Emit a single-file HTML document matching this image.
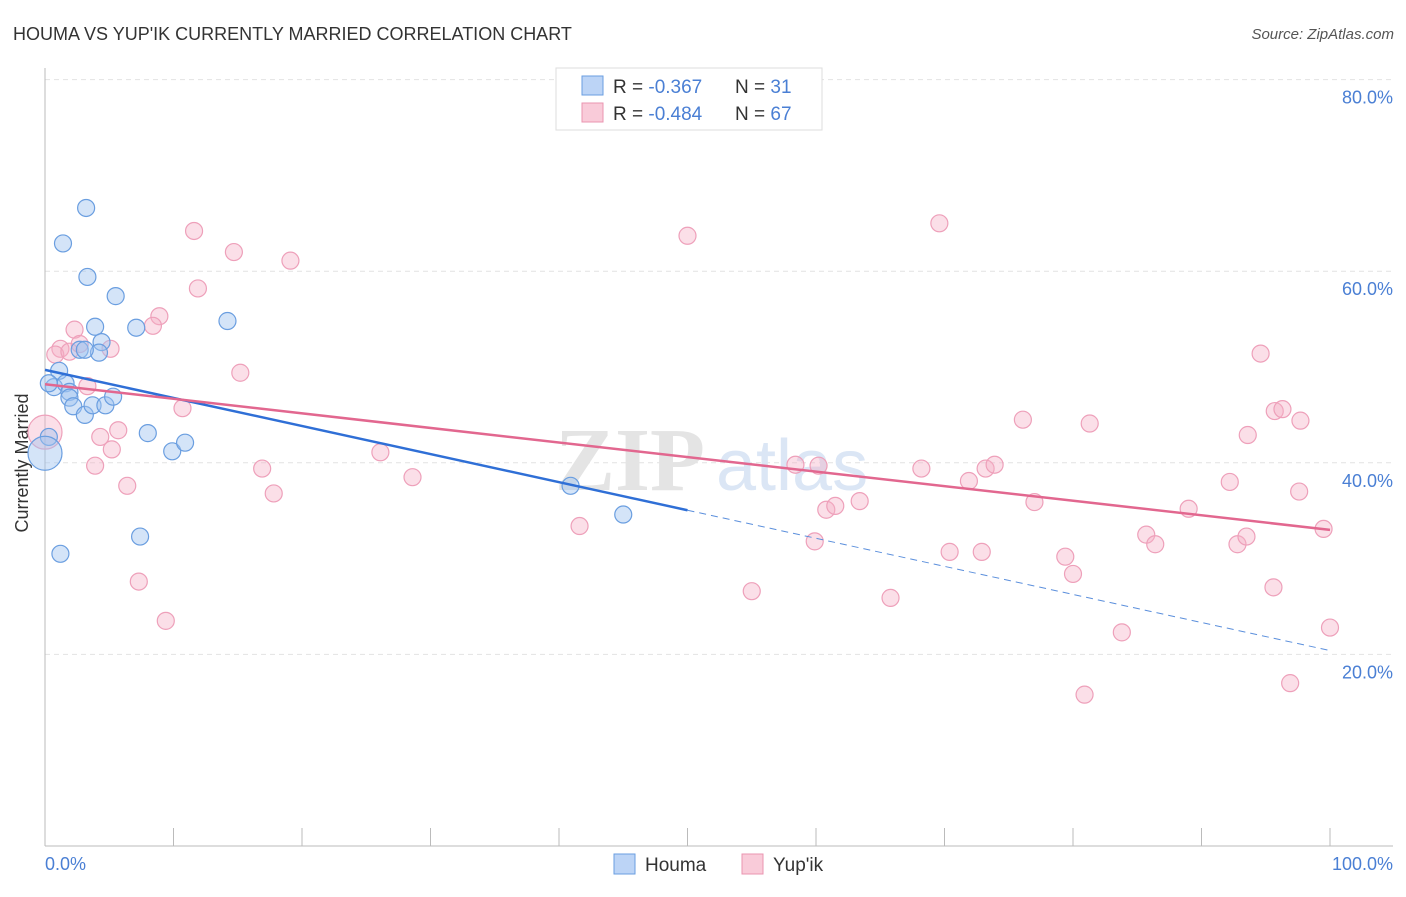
<!DOCTYPE html>
<html><head><meta charset="utf-8"><style>
body{margin:0;background:#fff;font-family:"Liberation Sans",sans-serif}
</style></head><body>
<svg width="1406" height="892" xmlns="http://www.w3.org/2000/svg" font-family="Liberation Sans, sans-serif">
<text x="13" y="40" font-size="18" fill="#333">HOUMA VS YUP'IK CURRENTLY MARRIED CORRELATION CHART</text>
<text x="1394" y="39" font-size="15" fill="#555" font-style="italic" text-anchor="end">Source: ZipAtlas.com</text>
<g id="grid"></g>
<g><text x="555" y="490" font-size="90" fill="#e4e4e4" font-family="Liberation Serif, serif" font-weight="bold">ZIP</text><text x="716" y="490" font-size="72" fill="#dbe6f5">atlas</text></g>
<line x1="45" y1="68" x2="45" y2="846" stroke="#bbb"/>
<line x1="45" y1="846" x2="1393" y2="846" stroke="#bbb"/>
<g id="ticks"></g>
<text x="22" y="457" font-size="18" fill="#333" text-anchor="middle" transform="rotate(-90 28 457)">Currently Married</text>
<text x="45" y="870" font-size="18" fill="#4a7fd4">0.0%</text>
<text x="1393" y="870" font-size="18" fill="#4a7fd4" text-anchor="end">100.0%</text>
<g id="pts"></g>
<g id="lines"></g>
<g>
<rect x="556" y="68" width="266" height="62" fill="#fff" stroke="#ddd"/>
<rect x="582" y="76" width="21" height="19" fill="#bcd4f6" stroke="#6a9ee0"/>
<rect x="582" y="103" width="21" height="19" fill="#f9cbd9" stroke="#ea94b0"/>
<text x="613" y="93" font-size="19" fill="#333">R = <tspan fill="#4a7fd4">-0.367</tspan><tspan x="735">N = </tspan><tspan fill="#4a7fd4">31</tspan></text>
<text x="613" y="120" font-size="19" fill="#333">R = <tspan fill="#4a7fd4">-0.484</tspan><tspan x="735">N = </tspan><tspan fill="#4a7fd4">67</tspan></text>
</g>
<g>
<rect x="614" y="854" width="21" height="20" fill="#bcd4f6" stroke="#6a9ee0"/>
<text x="645" y="871" font-size="19" fill="#333">Houma</text>
<rect x="742" y="854" width="21" height="20" fill="#f9cbd9" stroke="#ea94b0"/>
<text x="773" y="871" font-size="19" fill="#333">Yup'ik</text>
</g>
</svg>
<script>
const yTicks=[20,40,60,80];
const yTickLabels=["20.0%","40.0%","60.0%","80.0%"];
const houmaX=[3.2,1.4,3.3,5.5,14.2,3.9,7.1,4.4,2.7,4.2,1.1,0.7,1.6,1.9,1.9,2.2,3.1,3.7,4.7,5.3,8.0,9.9,10.9,0.3,0,40.9,45.0,7.4,1.2,3.1,0.3];
const houmaY=[66.6,62.9,59.4,57.4,54.8,54.2,54.1,52.6,51.8,51.5,49.6,47.9,48.3,47.4,46.8,45.9,45.0,46.0,46.0,46.9,43.1,41.2,42.1,42.7,41.0,37.6,34.6,32.3,30.5,51.8,48.3];
const houmaBig=[24];
const yupX=[11.6,14.7,19.1,11.9,8.9,8.4,2.3,1.2,0.8,1.9,2.7,5.1,3.3,10.7,5.7,4.3,5.2,3.9,6.4,16.9,17.8,15.2,26.1,28.6,7.3,9.4,0,50.0,69.6,41.6,55.0,58.4,60.2,60.8,61.5,59.9,63.4,65.8,68.2,70.4,71.9,72.9,73.2,73.9,76.1,77.0,79.4,80.0,81.3,80.9,83.8,85.7,86.4,89.0,92.2,92.8,93.6,93.5,94.6,95.7,96.3,97.7,97.6,95.6,96.9,100,99.5];
const yupY=[64.2,62.0,61.1,58.2,55.3,54.3,53.9,51.9,51.3,51.6,52.4,51.9,48.0,45.7,43.4,42.7,41.4,39.7,37.6,39.4,36.8,49.4,41.1,38.5,27.6,23.5,43.2,63.7,65.0,33.4,26.6,39.8,39.7,35.1,35.5,31.8,36.0,25.9,39.4,30.7,38.1,30.7,39.4,39.8,44.5,35.9,30.2,28.4,44.1,15.8,22.3,32.5,31.5,35.2,38.0,31.5,42.9,32.3,51.4,45.4,45.6,44.4,37.0,27.0,17.0,22.8,33.1];
const yupBig=[26];
const houmaTrend=[49.7,20.4]; // value at x=0 and x=100
const houmaSolidEnd=50;
const yupTrend=[48.2,33.0];
const NS="http://www.w3.org/2000/svg";
const X=v=>45+v*12.85, Y=v=>846-v*9.58;
function mk(t,a,p){const e=document.createElementNS(NS,t);for(const k in a)e.setAttribute(k,a[k]);p.appendChild(e);return e;}
const grid=document.getElementById('grid');
yTicks.forEach((t,i)=>{
 const l=mk('line',{x1:45,x2:1393,y1:Y(t),y2:Y(t),stroke:'#e2e2e2','stroke-dasharray':'5,4'},grid);
 
 
 const tx=mk('text',{x:1393,y:Y(t)+24,'font-size':18,fill:'#4a7fd4','text-anchor':'end'},grid);
 tx.textContent=yTickLabels[i];
 
 
});
const tk=document.getElementById('ticks');
for(let k=0;k<=10;k++){const l=mk('line',{x1:X(k*10),x2:X(k*10),y1:828,y2:846,stroke:'#bbb'},tk);
 
 }
const pts=document.getElementById('pts');
function series(xs,ys,big,fill,stroke,name){xs.forEach((x,i)=>{
 const c=mk('circle',{cx:X(x),cy:Y(ys[i]),r:big.includes(i)?17:8.5,fill:fill,stroke:stroke,'stroke-width':1.2},pts);
 
 });}
series(yupX,yupY,yupBig,'rgba(244,175,198,0.4)','#eea0ba','yupik-point');
series(houmaX,houmaY,houmaBig,'rgba(160,195,240,0.45)','#6a9ee0','houma-point');
const ln=document.getElementById('lines');
const tv=(tr,x)=>tr[0]+(tr[1]-tr[0])*x/100;
let a=mk('line',{x1:X(0),y1:Y(tv(houmaTrend,0)),x2:X(houmaSolidEnd),y2:Y(tv(houmaTrend,houmaSolidEnd)),stroke:'#2f6fd6','stroke-width':2.5},ln);


a=mk('line',{x1:X(houmaSolidEnd),y1:Y(tv(houmaTrend,houmaSolidEnd)),x2:X(100),y2:Y(tv(houmaTrend,100)),stroke:'#5b8fdc','stroke-width':1,'stroke-dasharray':'7,5'},ln);


a=mk('line',{x1:X(0),y1:Y(tv(yupTrend,0)),x2:X(100),y2:Y(tv(yupTrend,100)),stroke:'#e2678f','stroke-width':2.5},ln);


</script>
</body></html>
